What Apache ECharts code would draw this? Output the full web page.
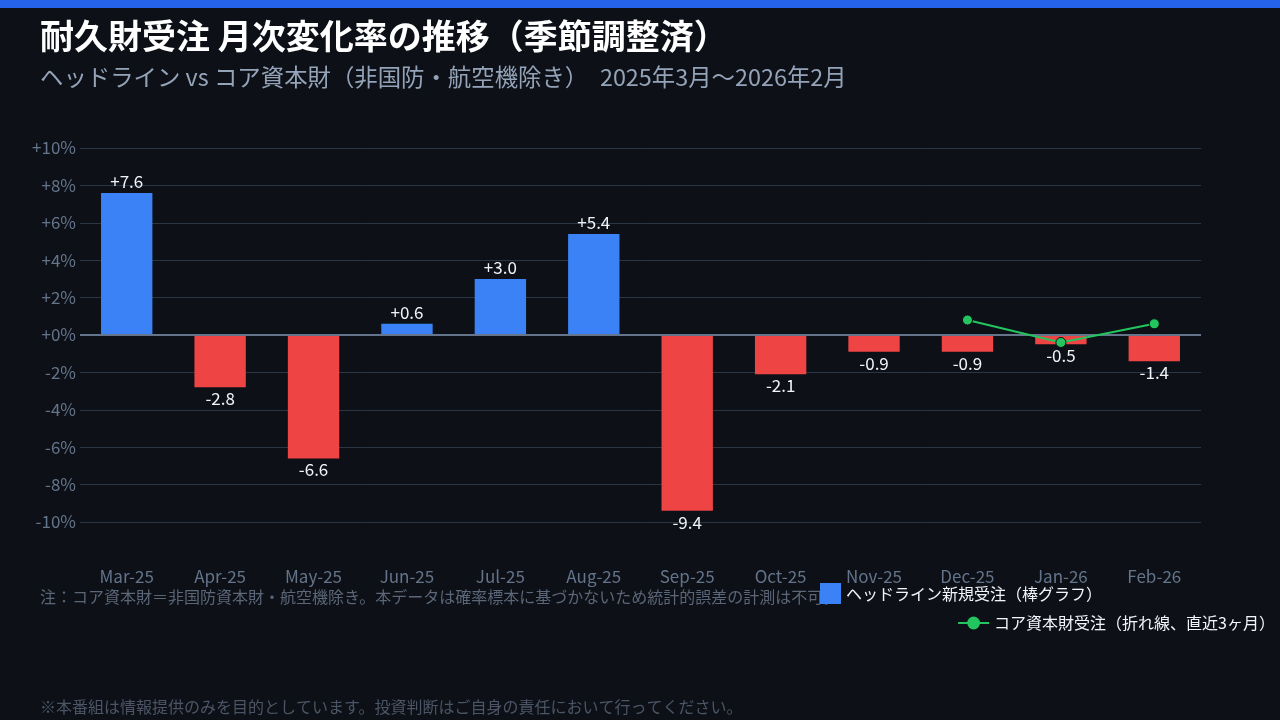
<!DOCTYPE html>
<html>
<head>
<meta charset="utf-8">
<script src="https://cdn.jsdelivr.net/npm/echarts@6/dist/echarts.min.js"></script>
<style>
  html, body { margin: 0; padding: 0; background: #0d1117; }
  #chart { width: 1280px; height: 720px; }
</style>
</head>
<body>
<div id="chart"></div>
<script>
const months = ['Mar-25', 'Apr-25', 'May-25', 'Jun-25', 'Jul-25', 'Aug-25', 'Sep-25', 'Oct-25', 'Nov-25', 'Dec-25', 'Jan-26', 'Feb-26'];
const headline = [7.6, -2.8, -6.6, 0.6, 3.0, 5.4, -9.4, -2.1, -0.9, -0.9, -0.5, -1.4];
const coreCapital = [null, null, null, null, null, null, null, null, null, 0.8, -0.4, 0.6];
const yTicks = { min: -10, max: 10, step: 2 };

const font = "'Noto Sans CJK JP', 'Noto Sans', sans-serif";
const blue = '#3b82f6', red = '#ef4444', green = '#22c55e';

const chart = echarts.init(document.getElementById('chart'));

const signed = v => (v > 0 ? '+' : '') + v.toFixed(1);

const option = {
  backgroundColor: '#0d1117',
  textStyle: { fontFamily: font },
  title: [
    {
      text: '耐久財受注 月次変化率の推移（季節調整済）',
      left: 35, top: 14,
      textStyle: { color: '#ffffff', fontSize: 34, fontWeight: 'bold', fontFamily: font }
    },
    {
      text: 'ヘッドライン vs コア資本財（非国防・航空機除き）　2025年3月〜2026年2月',
      left: 35, top: 60,
      textStyle: { color: '#94a3b8', fontSize: 23.4, fontWeight: 'normal', fontFamily: font }
    }
  ],
  legend: [
    {
      data: [{ name: 'ヘッドライン新規受注（棒グラフ）', icon: 'rect' }],
      left: 815, top: 578,
      itemWidth: 21, itemHeight: 21, itemGap: 8,
      textStyle: { color: '#f1f5f9', fontSize: 16, fontFamily: font }
    },
    {
      data: ['コア資本財受注（折れ線、直近3ヶ月）'],
      right: 0, top: 610,
      itemWidth: 31, itemHeight: 16, itemGap: 8,
      itemStyle: { borderWidth: 0 },
      textStyle: { color: '#f1f5f9', fontSize: 16, fontFamily: font }
    }
  ],
  grid: { left: 80, right: 79, top: 148, bottom: 198 },
  xAxis: {
    type: 'category',
    data: months,
    axisLine: { show: false },
    axisTick: { show: false },
    axisLabel: { color: '#64748b', fontSize: 17, margin: 46, fontFamily: font }
  },
  yAxis: {
    type: 'value',
    min: yTicks.min, max: yTicks.max, interval: yTicks.step,
    axisLine: { show: false },
    axisTick: { show: false },
    axisLabel: {
      color: '#64748b', fontSize: 17, margin: 4, fontFamily: font,
      formatter: v => (v >= 0 ? '+' : '') + v + '%'
    },
    splitLine: { lineStyle: { color: '#2b3644', width: 1 } }
  },
  series: [
    {
      name: 'ヘッドライン新規受注（棒グラフ）',
      type: 'bar',
      data: headline.map(v => ({
        value: v,
        itemStyle: { color: v >= 0 ? blue : red },
        label: { position: v >= 0 ? 'top' : 'bottom' }
      })),
      itemStyle: { color: blue },
      barWidth: '55%',
      label: {
        show: true,
        color: '#f1f5f9',
        fontSize: 17,
        distance: 3,
        fontFamily: font,
        formatter: p => signed(p.value)
      },
      markLine: {
        silent: true,
        symbol: 'none',
        label: { show: false },
        lineStyle: { color: '#64748b', width: 2, type: 'solid' },
        data: [{ yAxis: 0 }]
      }
    },
    {
      name: 'コア資本財受注（折れ線、直近3ヶ月）',
      type: 'line',
      data: coreCapital,
      connectNulls: false,
      symbol: 'circle',
      symbolSize: 10,
      lineStyle: { color: green, width: 2 },
      itemStyle: { color: green, borderColor: '#0d1117', borderWidth: 1 },
      z: 5
    }
  ],
  graphic: [
    {
      type: 'rect', left: 0, top: 0,
      shape: { width: 1280, height: 8 },
      style: { fill: '#2563eb' }
    },
    {
      type: 'text', left: 40, top: 589,
      style: {
        text: '注：コア資本財＝非国防資本財・航空機除き。本データは確率標本に基づかないため統計的誤差の計測は不可。',
        fill: '#5b6678', fontSize: 16, fontFamily: font
      }
    },
    {
      type: 'text', left: 40, top: 699,
      style: {
        text: '※本番組は情報提供のみを目的としています。投資判断はご自身の責任において行ってください。',
        fill: '#4b5566', fontSize: 16, fontFamily: font
      }
    }
  ]
};

chart.setOption(option);
</script>
</body>
</html>
